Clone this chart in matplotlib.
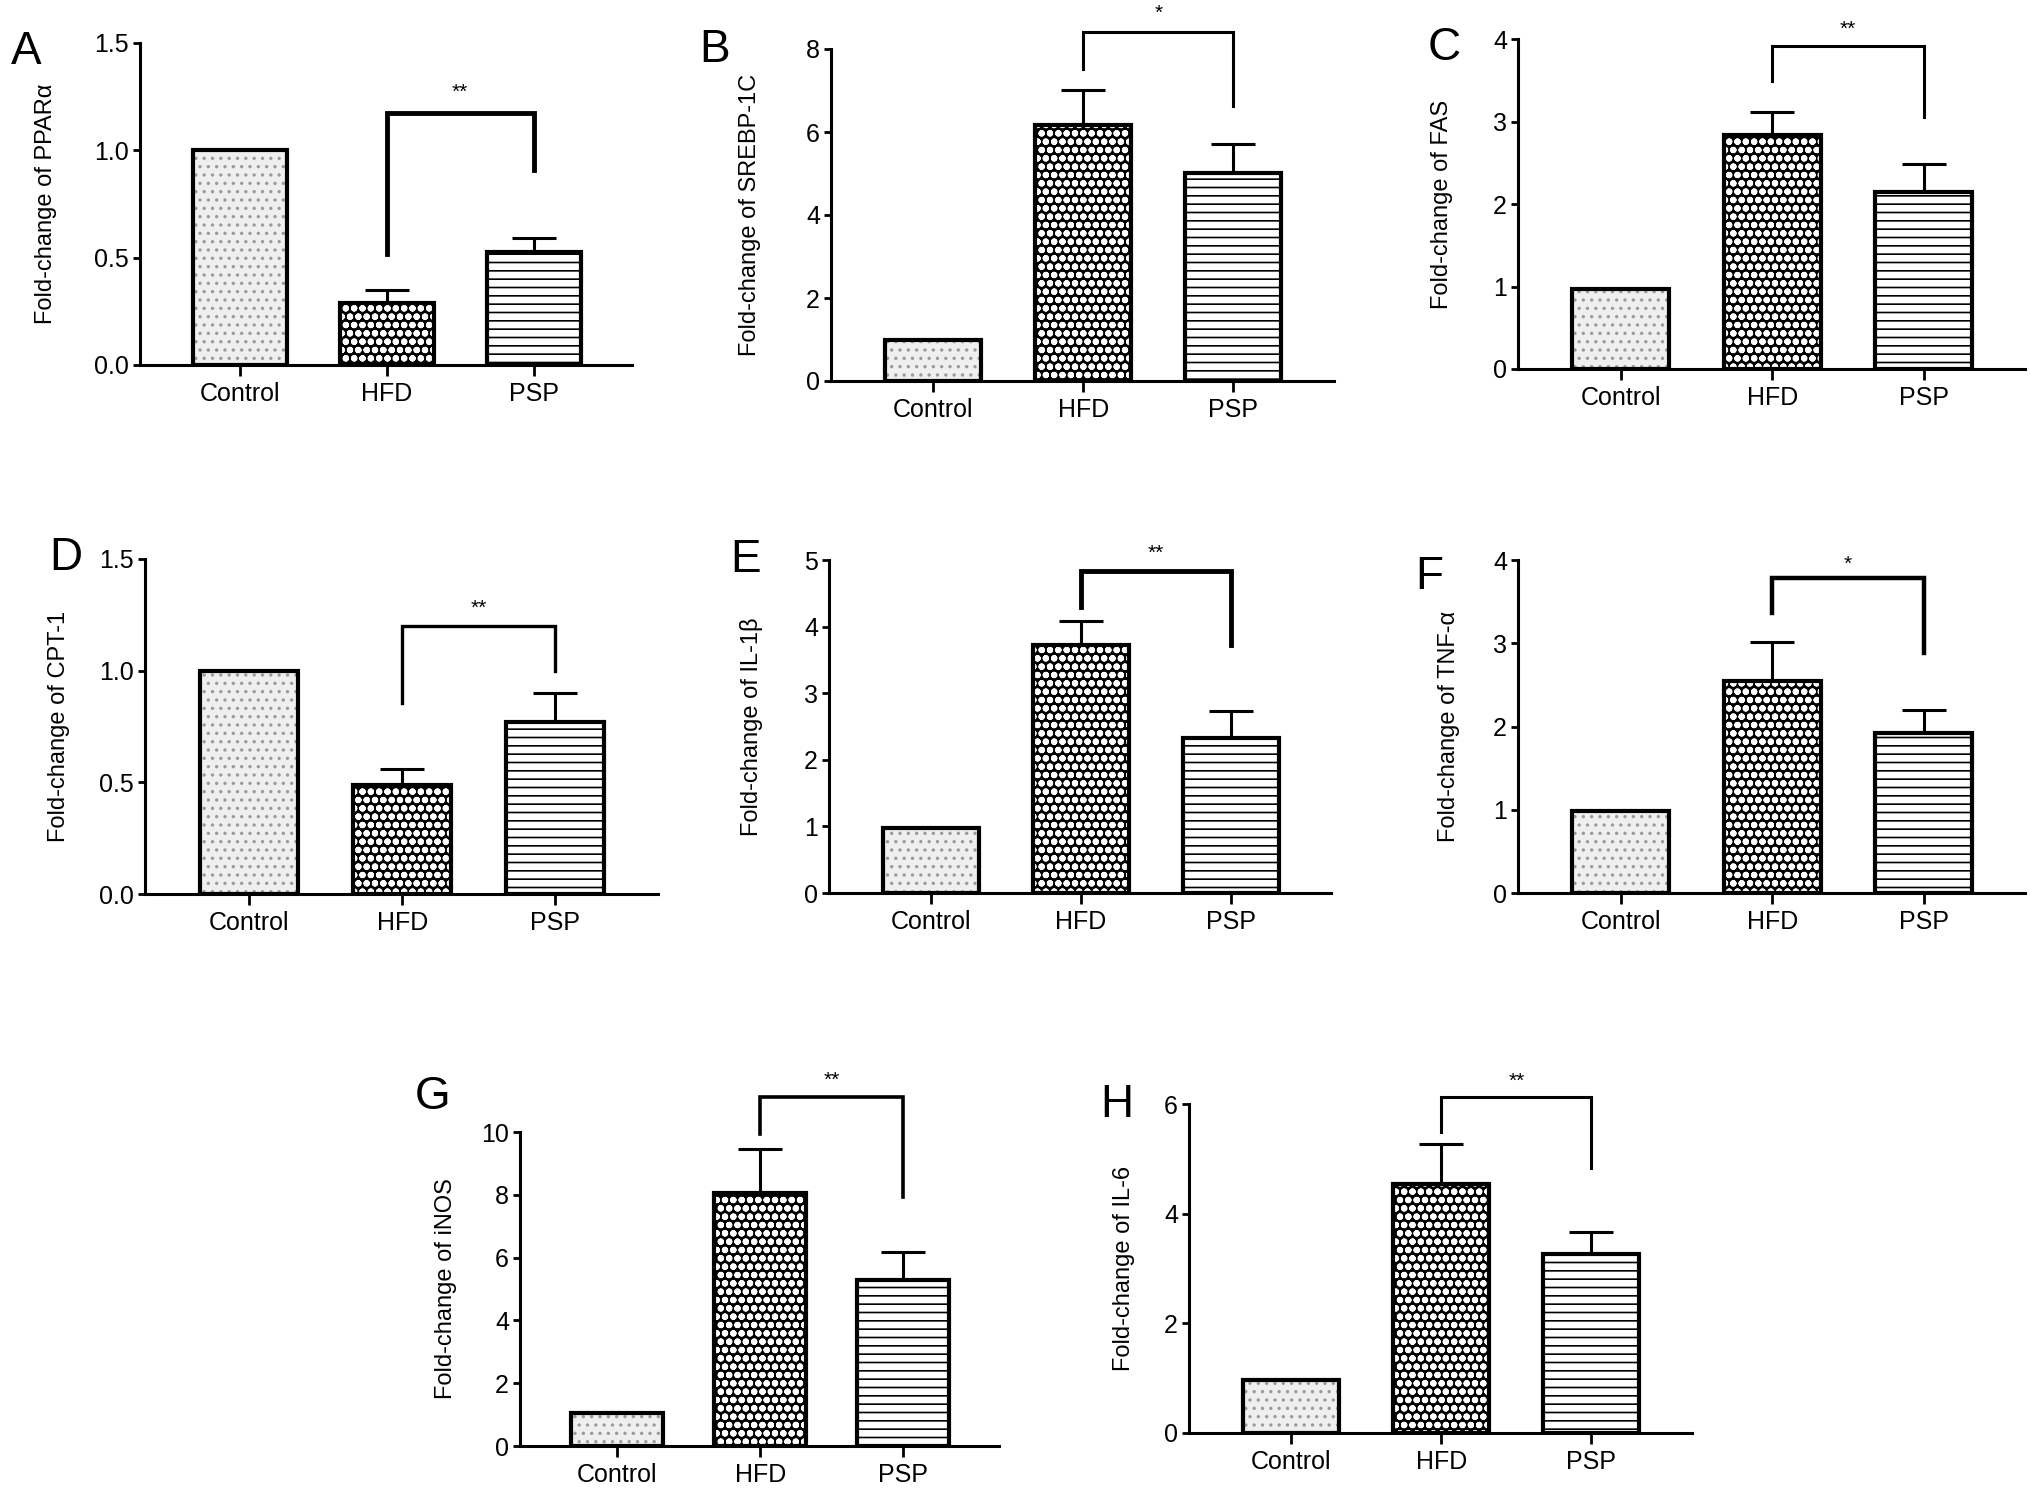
import matplotlib
matplotlib.use('Agg')
import matplotlib.pyplot as plt

plt.rcParams['font.family'] = ['Liberation Sans', 'DejaVu Sans']
plt.rcParams['hatch.linewidth'] = 1.2

# data (fold-change, mean and upper SEM)
groups = ['Control', 'HFD', 'PSP']
panel_ids = ['A', 'B', 'C', 'D', 'E', 'F', 'G', 'H']
genes = ['PPARα', 'SREBP-1C', 'FAS', 'CPT-1', 'IL-1β', 'TNF-α', 'iNOS', 'IL-6']
control_vals = [1.0, 1.0, 0.97, 1.0, 0.98, 0.98, 1.04, 0.97]
hfd_vals = [0.29, 6.17, 2.84, 0.49, 3.72, 2.55, 8.06, 4.55]
psp_vals = [0.526, 5.02, 2.14, 0.77, 2.33, 1.92, 5.28, 3.27]
hfd_err = [0.06, 0.85, 0.28, 0.07, 0.37, 0.47, 1.40, 0.72]
psp_err = [0.065, 0.69, 0.35, 0.13, 0.41, 0.28, 0.90, 0.39]
signif = ['**', '*', '**', '**', '**', '*', '**', '**']
bracket_top = [1.174, 8.41, 3.91, 1.20, 4.83, 3.78, 11.1, 6.13]
bracket_left_end = [0.518, 7.52, 3.49, 0.855, 4.3, 3.36, 9.95, 5.49]
bracket_right_end = [0.91, 6.62, 3.05, 1.0, 3.72, 2.88, 7.93, 4.83]
star_y = [1.27, 8.85, 4.12, 1.28, 5.1, 3.95, 11.65, 6.42]
y_max = [1.5, 8, 4, 1.5, 5, 4, 10, 6]
y_ticks = [[0, 0.5, 1.0, 1.5], [0, 2, 4, 6, 8], [0, 1, 2, 3, 4], [0, 0.5, 1.0, 1.5],
           [0, 1, 2, 3, 4, 5], [0, 1, 2, 3, 4], [0, 2, 4, 6, 8, 10], [0, 2, 4, 6]]
y_ticklabels = [['0.0', '0.5', '1.0', '1.5'], ['0', '2', '4', '6', '8'], ['0', '1', '2', '3', '4'],
                ['0.0', '0.5', '1.0', '1.5'], ['0', '1', '2', '3', '4', '5'], ['0', '1', '2', '3', '4'],
                ['0', '2', '4', '6', '8', '10'], ['0', '2', '4', '6']]

# layout in pixels: axes box (left, right, top, bottom), letter position, ylabel x
W, H = 2031, 1498
boxes = [(140, 632, 43, 365), (831, 1334, 49, 381), (1518, 2025, 39, 369),
         (145, 658, 559, 894), (829, 1331, 560, 893), (1518, 2025, 560, 893),
         (520, 999, 1132, 1446), (1189, 1692, 1104, 1433)]
letter_pos = [(26, 52), (715, 50), (1444, 48), (66, 558), (746, 560), (1429, 577),
              (433, 1097), (1117, 1105)]
ylabel_x = [57, 761, 1453, 70, 763, 1460, 457, 1135]
bracket_lw = [3.5, 2.2, 2.2, 2.4, 3.5, 3.2, 2.6, 2.2]

bar_w = 0.64
fig = plt.figure(figsize=(W / 100, H / 100), dpi=100)


def pattern_bar(ax, x, h, face, hatch, hcolor, hlw):
    with plt.rc_context({'hatch.linewidth': hlw}):
        p = ax.bar(x, h, width=bar_w, color=face, edgecolor=hcolor, hatch=hatch,
                   linewidth=0, zorder=2)
    for r in p:
        if hasattr(r, 'set_hatch_linewidth'):
            r.set_hatch_linewidth(hlw)
    ax.bar(x, h, width=bar_w, fill=False, edgecolor='black', linewidth=3, zorder=3)


for i in range(8):
    x0, x1, yt, yb = boxes[i]
    ax = fig.add_axes([x0 / W, 1 - yb / H, (x1 - x0) / W, (yb - yt) / H])

    pattern_bar(ax, 0, control_vals[i], '#efefef', '..', '#9a9a9a', 1.2)
    pattern_bar(ax, 1, hfd_vals[i], 'black', 'oo', 'white', 2.2)
    pattern_bar(ax, 2, psp_vals[i], 'white', '--', 'black', 1.2)
    ax.errorbar([1, 2], [hfd_vals[i], psp_vals[i]],
                yerr=[[0, 0], [hfd_err[i], psp_err[i]]], fmt='none',
                ecolor='black', elinewidth=2.2, capsize=16, capthick=2.2,
                zorder=1.5)

    # significance bracket
    ax.plot([1, 1, 2, 2], [bracket_left_end[i], bracket_top[i], bracket_top[i], bracket_right_end[i]],
            color='black', lw=bracket_lw[i], clip_on=False, solid_joinstyle='miter', zorder=4)
    ax.text(1.5, star_y[i], signif[i], ha='center', va='center', fontsize=15, clip_on=False)

    ax.set_xlim(-0.68, 2.67)
    ax.set_ylim(0, y_max[i])
    ax.set_xticks([0, 1, 2])
    ax.set_xticklabels(groups, fontsize=18)
    ax.set_yticks(y_ticks[i])
    ax.set_yticklabels(y_ticklabels[i], fontsize=18)
    ax.set_ylabel('Fold-change of ' + genes[i], fontsize=17)
    ax.yaxis.set_label_coords((ylabel_x[i] - x0) / (x1 - x0), 0.5)

    for s in ['top', 'right']:
        ax.spines[s].set_visible(False)
    for s in ['left', 'bottom']:
        ax.spines[s].set_linewidth(2.2)
    ax.tick_params(axis='y', length=5, width=2, pad=3)
    ax.tick_params(axis='x', length=8, width=2, pad=4)

    lx, ly = letter_pos[i]
    fig.text(lx / W, 1 - ly / H, panel_ids[i], fontsize=33, ha='center', va='center')

fig.savefig('out.png', dpi=100)
